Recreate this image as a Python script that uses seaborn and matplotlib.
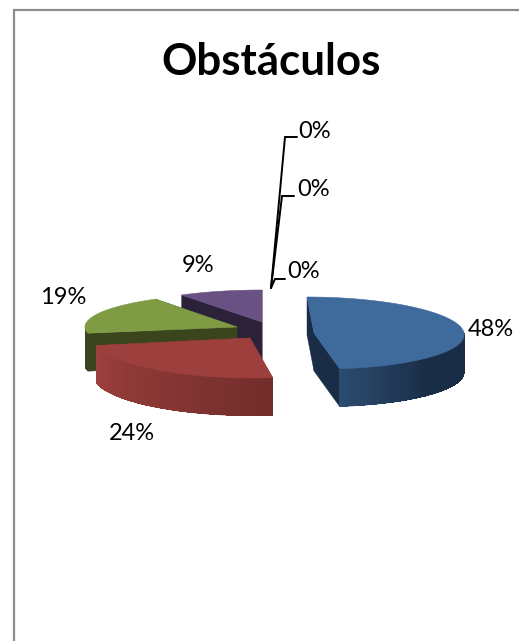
import numpy as np
import matplotlib
matplotlib.use("Agg")
import matplotlib.pyplot as plt
from matplotlib.colors import to_rgb
from matplotlib.patches import Polygon
import seaborn as sns

# --- data ---
title = "Obstáculos"
slice_values = [48, 24, 19, 9]
slice_labels = ["48%", "24%", "19%", "9%"]
zero_values = [0, 0, 0]
zero_labels = ["0%", "0%", "0%"]

# --- style / layout (pixel space of the 519x641 canvas) ---
top_colors = ["#3F6A9C", "#9D403D", "#7F9C45", "#6A5183"]
wall_colors = ["#1A2D47", "#722D2B", "#3A451E", "#2B2139"]
wall_light = ["#2C4B70", "#9D403D", "#3A451E", "#2B2139"]
centres = [(314, 333), (250, 338), (237, 327), (262, 322)]
radii = [(150, 36), (157, 40), (152, 33), (150, 32)]
lean = [-7, -3, 0, 0]
depth = 38
draw_order = [3, 2, 1, 0]
label_pos = [(491, 329), (132, 434), (63, 297), (198, 266)]
zero_pos = [(315, 132), (314, 190), (304, 272)]
leaders = [[(271, 288), (285, 137), (297, 137)],
           [(271, 288), (282, 196), (294, 196)],
           [(271, 288), (275, 279), (285, 279)]]

sns.set_theme(style="white")
plt.rcParams["font.family"] = ["Lato", "DejaVu Sans"]

fig = plt.figure(figsize=(5.19, 6.41), dpi=100, facecolor="white")
ax = fig.add_axes([0, 0, 1, 1])
ax.set_xlim(0, 519)
ax.set_ylim(641, 0)
ax.axis("off")

# chart frame: left and top edges only, running off the canvas
ax.plot([13.5, 13.5, 519], [641, 10, 10], color="#8C8C8C", lw=1.6, solid_joinstyle="miter")

ends = np.cumsum(slice_values) / sum(slice_values) * 360
starts = np.r_[0, ends[:-1]]


def point(i, deg):
    a, b = radii[i]
    t = np.radians(deg)
    cx, cy = centres[i]
    return cx + a * np.sin(t) + lean[i] * np.cos(t), cy - b * np.cos(t)


for i in draw_order:
    s, e = starts[i], ends[i]
    ang = np.linspace(s, e, 160)
    arc = np.array([point(i, d) for d in ang])
    c = centres[i]
    # radial walls
    for d in (s, e):
        p = point(i, d)
        wall = [c, p, (p[0], p[1] + depth), (c[0], c[1] + depth)]
        ax.add_patch(Polygon(wall, closed=True, fc=wall_colors[i], ec=wall_colors[i], lw=0.3))
    # outer curved wall, shaded along the arc
    dark, light = np.array(to_rgb(wall_colors[i])), np.array(to_rgb(wall_light[i]))
    front = [k for k in range(len(ang) - 1) if np.cos(np.radians(ang[k])) < 0.02]
    if front:
        base_top = arc[front[0]:front[-1] + 2]
        base = np.vstack([base_top, (base_top + [0, depth])[::-1]])
        ax.add_patch(Polygon(base, closed=True, fc=wall_colors[i], ec="none"))
    for n, k in enumerate(front):
        f = n / max(len(front) - 1, 1)
        if i == 0:
            col = dark + (light - dark) * max(0, (f - 0.55) / 0.45)
        elif i == 1:
            col = dark + (light - dark) * f
        else:
            col = dark
        j = min(k + 3, len(arc) - 1)
        q = [arc[k], arc[j], arc[j] + [0, depth - 0.4], arc[k] + [0, depth - 0.4]]
        ax.add_patch(Polygon(q, closed=True, fc=col, ec="none", antialiased=False))
    # top face
    ax.add_patch(Polygon(np.vstack([c, arc]), closed=True, fc=top_colors[i], ec=top_colors[i], lw=0.4))

for pts in leaders:
    xs, ys = zip(*pts)
    ax.plot(xs, ys, color="black", lw=1.4, solid_joinstyle="miter")

ax.text(271.5, 62, title, fontsize=31.6, fontweight="bold", color="black", ha="center", va="center")
for txt, (x, y) in zip(slice_labels, label_pos):
    ax.text(x, y, txt, fontsize=17, color="black", ha="center", va="center")
for txt, (x, y) in zip(zero_labels, zero_pos):
    ax.text(x, y, txt, fontsize=17, color="black", ha="center", va="center")

fig.savefig("out.png", dpi=100, facecolor="white")
